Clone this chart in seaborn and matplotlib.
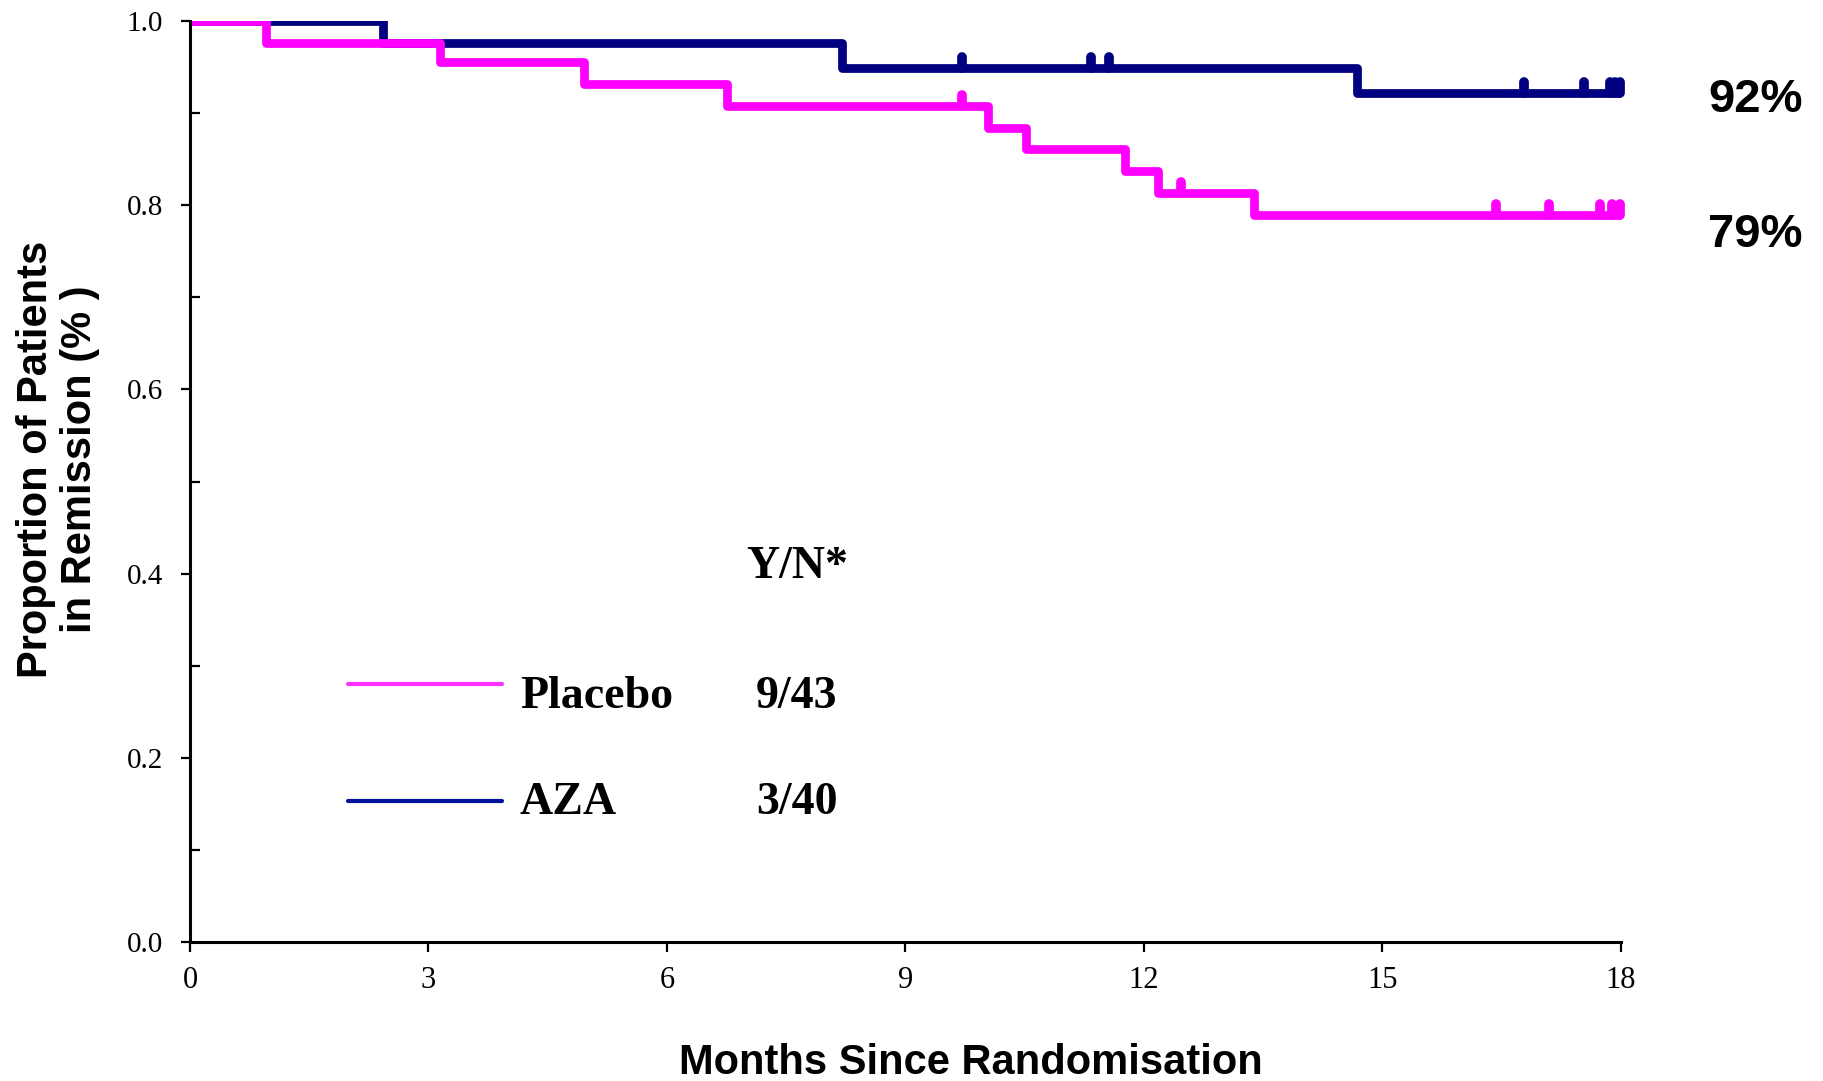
import numpy as np
import pandas as pd
import matplotlib
matplotlib.use("Agg")
import matplotlib.pyplot as plt
from matplotlib.lines import Line2D
from matplotlib.markers import MarkerStyle
from matplotlib.path import Path
from matplotlib import font_manager as fm
import seaborn as sns

# ---------------- data ----------------
groups = ["AZA", "Placebo"]
colors = {"AZA": "#000080", "Placebo": "#FF00FF"}

aza_time = [0.0, 2.43, 8.20, 14.68, 18.0]
aza_surv = [1.0, 0.976, 0.949, 0.922, 0.922]
aza_censor = [9.71, 11.33, 11.56, 16.78, 17.53, 17.86, 17.93, 17.99]

pla_time = [0.0, 0.95, 3.14, 4.95, 6.75, 10.04, 10.51, 11.76, 12.18, 13.38, 18.0]
pla_surv = [1.0, 0.976, 0.955, 0.932, 0.908, 0.884, 0.861, 0.837, 0.813, 0.789, 0.789]
pla_censor = [9.71, 12.47, 16.43, 17.10, 17.73, 17.89, 17.99]

legend_labels = ["Placebo", "AZA"]
events = ["9/43", "3/40"]
final_pct = {"AZA": "92%", "Placebo": "79%"}

x_ticks = [0, 3, 6, 9, 12, 15, 18]
y_ticks = [0.0, 0.2, 0.4, 0.6, 0.8, 1.0]
y_minor = [0.1, 0.3, 0.5, 0.7, 0.9]

# ---------------- style ----------------
sns.set_style("ticks")
names = {f.name for f in fm.fontManager.ttflist}
if "Liberation Sans Narrow" in names:
    cond_font, cond_size = "Liberation Sans Narrow", 36
else:
    cond_font, cond_size = "Liberation Sans", 30
serif = ["Liberation Serif", "DejaVu Serif"]
plt.rcParams["font.family"] = serif
for key in ["text.color", "axes.labelcolor", "xtick.color", "ytick.color",
            "axes.edgecolor"]:
    plt.rcParams[key] = "black"

fig = plt.figure(figsize=(18.24, 10.81), dpi=100)
ax = fig.add_axes([190 / 1824, 1 - 942 / 1081, 1431 / 1824, 921 / 1081])

df = pd.concat([
    pd.DataFrame({"group": "AZA", "time": aza_time, "surv": aza_surv}),
    pd.DataFrame({"group": "Placebo", "time": pla_time, "surv": pla_surv}),
])

sns.lineplot(data=df, x="time", y="surv", hue="group", hue_order=groups,
             palette=colors, drawstyle="steps-post", estimator=None,
             linewidth=6.3, legend=False, ax=ax)

# censor ticks (small upward marks on the curve)
tick_path = Path([(0, 0), (0, 1)])
cmark = MarkerStyle(tick_path, capstyle="round")
for g, t, s, c in [("AZA", aza_time, aza_surv, aza_censor),
                   ("Placebo", pla_time, pla_surv, pla_censor)]:
    idx = np.searchsorted(np.array(t), np.array(c), side="right") - 1
    cy = np.array(s)[idx]
    ax.plot(c, cy, ls="none", marker=cmark, ms=16, mew=7,
            color=colors[g], clip_on=False)

ax.set_xlim(0, 18)
ax.set_ylim(0, 1.0)
ax.set_xticks(x_ticks)
ax.set_xticklabels([str(v) for v in x_ticks])
ax.set_yticks(y_ticks)
ax.set_yticklabels([f"{v:.1f}" for v in y_ticks])
ax.set_yticks(y_minor, minor=True)

for side in ["top", "right"]:
    ax.spines[side].set_visible(False)
for side in ["left", "bottom"]:
    ax.spines[side].set_linewidth(2.2)
    ax.spines[side].set_color("black")

ax.tick_params(axis="x", which="major", direction="out", length=7.5, width=1.6,
               pad=10, labelsize=22, colors="black")
ax.tick_params(axis="y", which="major", direction="out", length=6.5, width=1.6,
               pad=13, labelsize=21, colors="black")
ax.tick_params(axis="y", which="minor", direction="in", length=7, width=1.6,
               colors="black")
ax.tick_params(axis="x", which="minor", length=0)

ax.set_xlabel("Months Since Randomisation", fontfamily=cond_font,
              fontweight="bold", fontsize=cond_size, va="center")
ax.xaxis.set_label_coords((971 - 190) / 1431, (942 - 1063) / 921)
ax.set_ylabel("Proportion of Patients\nin Remission (% )", fontfamily=cond_font,
              fontweight="bold", fontsize=cond_size, va="center",
              linespacing=1.12)
ax.yaxis.set_label_coords((58 - 190) / 1431, (942 - 459) / 921)

# final percentages at right
ax.text(19.1, 0.901, final_pct["AZA"], fontfamily="Liberation Sans",
        fontweight="bold", fontsize=34, ha="left", va="baseline", clip_on=False)
ax.text(19.1, 0.755, final_pct["Placebo"], fontfamily="Liberation Sans",
        fontweight="bold", fontsize=34, ha="left", va="baseline", clip_on=False)

# legend keys (handles only) + text columns
handles = [Line2D([], [], color="#FF33FF", lw=3),
           Line2D([], [], color="#00139A", lw=3)]
leg = ax.legend(handles, ["", ""], loc="upper left",
                bbox_to_anchor=(348 / 1824, 1 - 667 / 1081),
                bbox_transform=fig.transFigure, frameon=False, borderpad=0,
                borderaxespad=0, handlelength=3.26, handletextpad=0,
                labelspacing=1.57,
                prop={"family": serif, "weight": "bold", "size": 34})

txt_kw = dict(transform=ax.transAxes, fontsize=33, fontweight="bold",
              ha="left", va="baseline")
ax.text((746 - 190) / 1431, (942 - 578) / 921, "Y/N*", **txt_kw)
ax.text((520 - 190) / 1431, (942 - 708) / 921, legend_labels[0], **txt_kw)
ax.text((520 - 190) / 1431, (942 - 814) / 921, legend_labels[1], **txt_kw)
ax.text((756 - 190) / 1431, (942 - 708) / 921, events[0], **txt_kw)
ax.text((756 - 190) / 1431, (942 - 814) / 921, events[1], **txt_kw)

fig.savefig("out.png", dpi=100, facecolor="white")
